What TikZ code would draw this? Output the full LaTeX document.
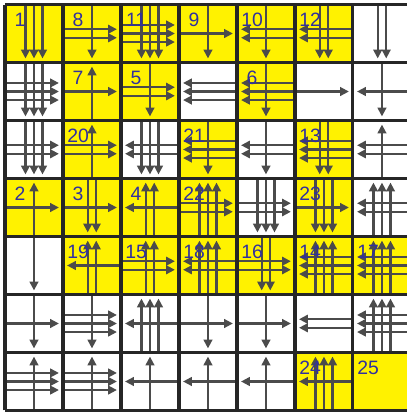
\documentclass[tikz,border=0pt]{standalone}
\usepackage{fontspec}
\setmainfont{Liberation Sans}
\usetikzlibrary{arrows.meta}
\definecolor{numblue}{RGB}{48,48,160}
\definecolor{flowgray}{RGB}{75,75,75}

\begin{document}
\begin{tikzpicture}[x=1cm,y=-1cm,
  flow/.style={draw=flowgray,line width=1.1pt,-{Triangle[length=4.3pt,width=4.2pt]}},
  cellnum/.style={text=numblue,font=\fontsize{9.5}{10}\selectfont,inner sep=0pt}]
 \clip (-0.086,-0.078) rectangle (6.931,7.026);
 \fill[white] (-0.086,-0.078) rectangle (6.931,7.026);
 \foreach \cx/\ry/\fc/\lbl/\nv/\dv/\nh/\dh in {
  0/0/yellow/1/3/1/0/0, 1/0/yellow/8/1/1/2/1, 2/0/yellow/11/3/1/3/1,
  3/0/yellow/9/1/1/1/1, 4/0/yellow/10/1/1/2/-1, 5/0/yellow/12/2/1/2/-1,
  6/0/white/0/2/1/0/0,
  0/1/white/0/3/1/3/1, 1/1/yellow/7/1/-1/1/1, 2/1/yellow/5/1/1/2/1,
  3/1/white/0/0/0/3/-1, 4/1/yellow/6/1/1/3/-1, 5/1/white/0/0/0/1/1,
  6/1/white/0/1/1/1/-1,
  0/2/white/0/3/1/2/1, 1/2/yellow/20/1/-1/2/1, 2/2/white/0/3/1/2/-1,
  3/2/yellow/21/1/1/3/-1, 4/2/white/0/1/1/2/-1, 5/2/yellow/13/2/1/3/-1,
  6/2/white/0/1/-1/2/-1,
  0/3/yellow/2/1/-1/1/1, 1/3/yellow/3/2/1/1/1, 2/3/yellow/4/2/-1/1/-1,
  3/3/yellow/22/3/-1/2/1, 4/3/white/0/3/1/2/1, 5/3/yellow/23/3/1/1/1,
  6/3/white/0/3/-1/2/-1,
  0/4/white/0/1/1/0/0, 1/4/yellow/19/2/-1/1/-1, 2/4/yellow/15/2/-1/2/1,
  3/4/yellow/18/3/-1/2/-1, 4/4/yellow/16/2/1/2/1, 5/4/yellow/14/3/-1/3/-1,
  6/4/yellow/17/3/-1/3/-1,
  0/5/white/0/1/1/1/1, 1/5/white/0/1/1/3/1, 2/5/white/0/3/-1/1/-1,
  3/5/white/0/1/1/1/1, 4/5/white/0/1/1/1/1, 5/5/white/0/0/0/2/-1,
  6/5/white/0/3/-1/3/-1,
  0/6/white/0/1/-1/3/1, 1/6/white/0/1/-1/3/1, 2/6/white/0/1/-1/1/-1,
  3/6/white/0/1/-1/1/-1, 4/6/white/0/1/-1/1/-1, 5/6/yellow/24/3/-1/1/-1,
  6/6/yellow/25/0/0/0/0} {
  \fill[\fc] (\cx,\ry) rectangle ++(1,1);
  \ifnum\nv>0
   \foreach \k in {1,...,\nv} {
    \pgfmathsetmacro\xk{\cx+0.5+(\k-(\nv+1)/2)*0.147}
    \ifnum\dv>0 \draw[flow] (\xk,\ry) -- (\xk,\ry+0.93);
    \else \draw[flow] (\xk,\ry+1) -- (\xk,\ry+0.07); \fi
   }
  \fi
  \ifnum\nh>0
   \foreach \k in {1,...,\nh} {
    \pgfmathsetmacro\yk{\ry+0.5+(\k-(\nh+1)/2)*0.147}
    \ifnum\dh>0 \draw[flow] (\cx,\yk) -- (\cx+0.93,\yk);
    \else \draw[flow] (\cx+1,\yk) -- (\cx+0.07,\yk); \fi
   }
  \fi
  \ifnum\lbl>0
   \node[cellnum] (num\lbl) at (\cx+0.26,\ry+0.26) {\lbl};
  \fi
 }
 \draw[line width=1.5pt,black!85] (0,0) grid (7,7);
\end{tikzpicture}
\end{document}
